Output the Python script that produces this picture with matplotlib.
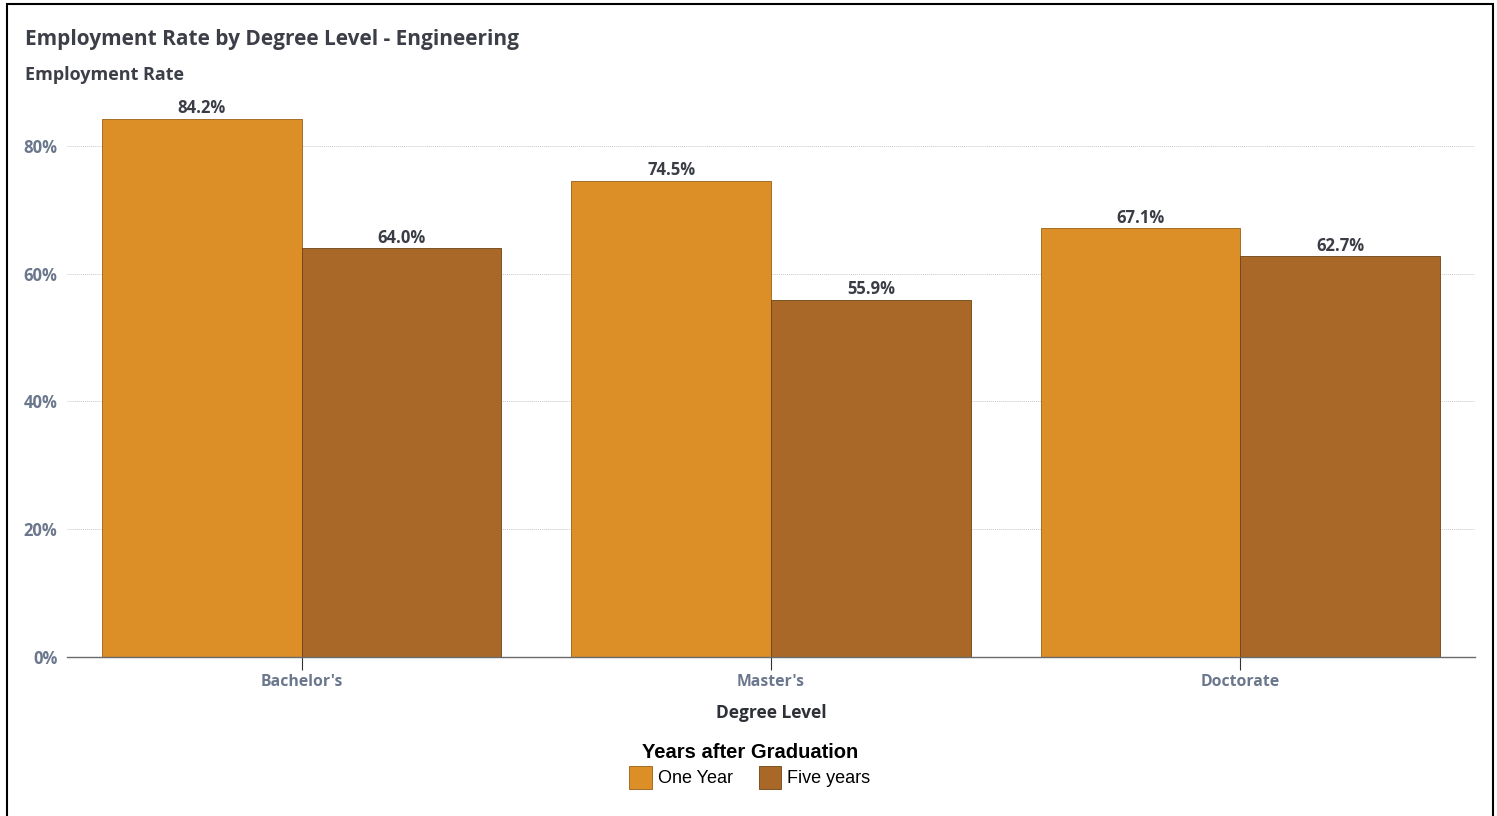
import numpy as np
import matplotlib.pyplot as plt
from matplotlib.patches import Rectangle

degrees = ["Bachelor's", "Master's", "Doctorate"]
one_year = [84.2, 74.5, 67.1]
five_years = [64.0, 55.9, 62.7]
series_names = ["One Year", "Five years"]
y_ticks = [0, 20, 40, 60, 80]

orange = "#DD8F27"
brown = "#A96828"
tick_grey = "#6B778C"
text_dark = "#3A3D45"
ui_font = "Open Sans"

fig = plt.figure(figsize=(14.97, 8.16), dpi=100)
ax = fig.add_axes([67 / 1497, 1 - 657 / 816, (1475 - 67) / 1497, (657 - 82) / 816])

x = np.arange(len(degrees))
w = 0.4255
b1 = ax.bar(x - w / 2, one_year, w, color=orange, edgecolor="#9A5E14", linewidth=0.6, zorder=2)
b2 = ax.bar(x + w / 2, five_years, w, color=brown, edgecolor="#6E4215", linewidth=0.6, zorder=2)

for bars, vals in [(b1, one_year), (b2, five_years)]:
    for bar, v in zip(bars, vals):
        ax.text(bar.get_x() + bar.get_width() / 2, v + 0.25, f"{v:.1f}%",
                ha="center", va="bottom", fontsize=12, fontfamily=ui_font,
                fontweight="bold", color=text_dark)

ax.set_xlim(-0.5, 2.5)
ax.set_ylim(0, 90)
ax.set_yticks(y_ticks)
ax.set_yticklabels([f"{t}%" for t in y_ticks])
ax.set_xticks(x)
ax.set_xticklabels(degrees)
ax.grid(axis="y", linestyle=(0, (1, 1)), color="#C8C8C8", linewidth=0.7, zorder=0)
ax.set_axisbelow(True)

for s in ["top", "right", "left"]:
    ax.spines[s].set_visible(False)
ax.spines["bottom"].set_color("#6A6A6A")
ax.spines["bottom"].set_linewidth(1.0)
ax.tick_params(axis="y", length=0, pad=7, labelsize=12, labelcolor=tick_grey)
ax.tick_params(axis="x", length=9, width=0.8, color="#333333", pad=3, labelsize=11.3, labelcolor=tick_grey)
for lbl in ax.get_xticklabels() + ax.get_yticklabels():
    lbl.set_fontfamily(ui_font)
    lbl.set_fontweight("bold")
ax.set_xlabel("Degree Level", fontsize=12.5, fontfamily=ui_font, fontweight="bold",
              color="#2E3038", labelpad=10)

fig.text(25 / 1497, 1 - 40 / 816, "Employment Rate by Degree Level - Engineering",
         fontsize=15, fontfamily=ui_font, fontweight="bold", color="#3C3F47", va="center")
fig.text(25 / 1497, 1 - 75 / 816, "Employment Rate",
         fontsize=13, fontfamily=ui_font, fontweight="bold", color="#3C3F47", va="center")

leg = fig.legend([b1, b2], series_names, loc="center", bbox_to_anchor=(750 / 1497, 1 - 766 / 816),
                 ncol=2, frameon=False, title="Years after Graduation",
                 prop={"family": "Liberation Sans", "size": 13},
                 handlelength=1.25, handleheight=1.6, handletextpad=0.35, columnspacing=1.4,
                 borderpad=0.0, labelspacing=0.2)
leg.get_title().set_fontfamily("Liberation Sans")
leg.get_title().set_fontweight("bold")
leg.get_title().set_fontsize(14.5)

# outer frame
fig.patches.append(Rectangle((7 / 1497, -0.01), 1486 / 1497, 1 - 4 / 816 + 0.01,
                             transform=fig.transFigure, fill=False, edgecolor="black",
                             linewidth=1.5))

fig.savefig("out.png", dpi=100)
